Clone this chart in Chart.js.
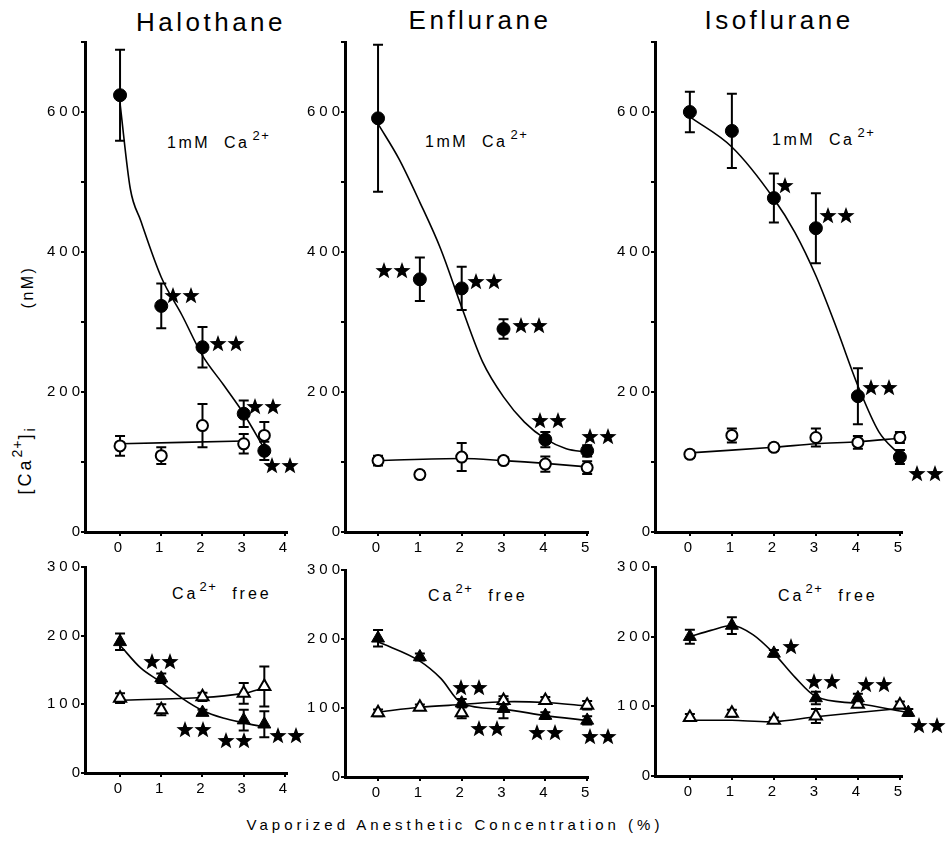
<!DOCTYPE html>
<html>
<head>
  <title>Anesthetics and [Ca2+]i</title>
  <script src="https://cdn.jsdelivr.net/npm/chart.js"></script>
  <style>
    body {
      margin: 0;
      background: #ffffff;
      font-family: 'Liberation Sans', Arial, sans-serif;
      color: #000;
    }
    #wrap {
      position: relative;
      width: 951px;
      height: 844px;
      overflow: hidden;
    }
    canvas { position: absolute; }
    .title {
      position: absolute;
      width: 300px;
      text-align: center;
      font-size: 26px;
      line-height: 32px;
      letter-spacing: 3.5px;
    }
    .lab {
      position: absolute;
      font-size: 16px;
      line-height: 16px;
      letter-spacing: 2.5px;
      white-space: nowrap;
    }
    .lab .sup {
      font-size: 13px;
      position: relative;
      top: -8px;
      letter-spacing: 1.5px;
      margin-left: 3px;
    }
    .lab.free { letter-spacing: 3px; }
    .lab.free .sup { margin-left: 1px; }
    .ylab {
      position: absolute;
      white-space: nowrap;
      transform: translate(-50%, -50%) rotate(-90deg);
    }
    #ynm { font-size: 16px; line-height: 16px; letter-spacing: 2.5px; }
    #yca { font-size: 18px; line-height: 18px; letter-spacing: 3px; }
    #yca .sup { font-size: 14px; position: relative; top: -9px; letter-spacing: 1px; }
    #yca .sub { font-size: 14px; position: relative; top: 4px; }
    #xtitle {
      position: absolute;
      left: 0;
      width: 910px;
      top: 816px;
      text-align: center;
      font-size: 15px;
      letter-spacing: 4px;
    }
  </style>
</head>
<body>
<div id="wrap">
  <div class="title" style="left:61px;top:6px">Halothane</div>
  <div class="title" style="left:330px;top:4px">Enflurane</div>
  <div class="title" style="left:629px;top:4px">Isoflurane</div>

  <div class="lab" style="left:167px;top:135px">1mM&nbsp;&nbsp;Ca<span class="sup">2+</span></div>
  <div class="lab" style="left:425px;top:134px">1mM&nbsp;&nbsp;Ca<span class="sup">2+</span></div>
  <div class="lab" style="left:772px;top:132px">1mM&nbsp;&nbsp;Ca<span class="sup">2+</span></div>

  <div class="lab free" style="left:172px;top:586px">Ca<span class="sup">2+</span>&nbsp;&nbsp;free</div>
  <div class="lab free" style="left:428px;top:588px">Ca<span class="sup">2+</span>&nbsp;&nbsp;free</div>
  <div class="lab free" style="left:778px;top:588px">Ca<span class="sup">2+</span>&nbsp;&nbsp;free</div>

  <div class="ylab" id="ynm" style="left:28px;top:287px">(nM)</div>
  <div class="ylab" id="yca" style="left:25px;top:460px">[Ca<span class="sup">2+</span>]<span class="sub">i</span></div>

  <div id="xtitle">Vaporized Anesthetic Concentration (%)</div>

  <canvas id="c1"></canvas>
  <canvas id="c2"></canvas>
  <canvas id="c3"></canvas>
  <canvas id="c4"></canvas>
  <canvas id="c5"></canvas>
  <canvas id="c6"></canvas>
</div>

<script>
  const FONT = "'Liberation Sans', Arial, sans-serif";

  // ---------- Halothane, 1mM Ca2+ ----------
  const haloDose = [0, 1, 2, 3, 3.5];
  const haloCa = [624, 323, 264, 169, 116];
  const haloCaSem = [65, 32, 29, 19, 13];
  const haloCaCtl = [123, 109, 152, 126, 138];
  const haloCaCtlSem = [14, 12, 31, 14, 19];
  const haloCaFitX = [0, 0.25, 0.5, 1, 1.5, 2, 2.5, 3, 3.5];
  const haloCaFitY = [612, 490, 445, 364, 310, 252, 211, 169, 119];
  const haloCaCtlFitX = [0, 3];
  const haloCaCtlFitY = [126, 130];
  const haloCaStar2X = [1.52, 2.6, 3.5, 3.92];
  const haloCaStar2Y = [338, 270, 180, 95];

  // ---------- Enflurane, 1mM Ca2+ ----------
  const enfDose = [0, 1, 2, 3, 4, 5];
  const enfCa = [591, 361, 348, 290, 132, 116];
  const enfCaSem = [105, 31, 31, 14, 11, 8];
  const enfCaCtl = [102, 82, 107, 102, 97, 92];
  const enfCaCtlSem = [7, 5, 20, 5, 11, 9];
  const enfCaFitX = [0, 0.5, 1, 1.5, 2, 2.5, 3, 3.5, 4, 4.5, 5];
  const enfCaFitY = [583, 533, 471, 404, 321, 243, 193, 157, 133, 119, 114];
  const enfCaCtlFitX = [0, 2, 3, 4, 5];
  const enfCaCtlFitY = [102, 105, 102, 98, 93];
  const enfCaStar2X = [0.38, 2.58, 3.64, 4.1, 5.3];
  const enfCaStar2Y = [373, 358, 295, 159, 137];

  // ---------- Isoflurane, 1mM Ca2+ ----------
  const isoDose = [0, 1, 2, 3, 4, 5];
  const isoCa = [600, 573, 477, 434, 194, 107];
  const isoCaSem = [29, 53, 35, 50, 40, 10];
  const isoCaCtl = [111, 138, 121, 135, 128, 135];
  const isoCaCtlSem = [5, 10, 5, 13, 9, 8];
  const isoCaFitX = [0, 1, 2, 2.5, 3, 3.5, 4, 4.5, 5];
  const isoCaFitY = [593, 550, 476, 428, 366, 290, 209, 143, 110];
  const isoCaCtlFitX = [0, 2, 3, 4, 5];
  const isoCaCtlFitY = [113, 121, 126, 129, 134];
  const isoCaStar1X = [2.28];
  const isoCaStar1Y = [495];
  const isoCaStar2X = [3.51, 4.53, 5.63];
  const isoCaStar2Y = [452, 207, 83];

  // ---------- Halothane, Ca2+ free ----------
  const haloFree = [191, 138, 88, 77, 71];
  const haloFreeSem = [12, 7, 4, 15, 19];
  const haloFreeCtl = [109, 92, 111, 116, 126];
  const haloFreeCtlSem = [7, 8, 6, 15, 29];
  const haloFreeFitX = [0, 0.5, 1, 1.5, 2, 2.5, 3, 3.5];
  const haloFreeFitY = [186, 153, 132, 109, 91, 80, 73, 67];
  const haloFreeCtlFitX = [0, 2, 3, 3.5];
  const haloFreeCtlFitY = [106, 110, 116, 124];
  const haloFreeStar2X = [1.0, 1.81, 2.8, 4.07];
  const haloFreeStar2Y = [163, 63, 47, 54];

  // ---------- Enflurane, Ca2+ free ----------
  const enfFree = [201, 174, 107, 99, 89, 82];
  const enfFreeSem = [12, 5, 6, 14, 5, 6];
  const enfFreeCtl = [93, 101, 93, 111, 111, 104];
  const enfFreeCtlSem = [5, 4, 8, 6, 5, 6];
  const enfFreeFitX = [0, 1, 1.5, 2, 3, 4, 5];
  const enfFreeFitY = [196, 168, 143, 107, 98, 89, 82];
  const enfFreeCtlFitX = [0, 1, 2, 3, 4, 5];
  const enfFreeCtlFitY = [94, 101, 105, 109, 108, 103];
  const enfFreeStar2X = [2.22, 2.65, 4.02, 5.3];
  const enfFreeStar2Y = [130, 70, 64, 58];

  // ---------- Isoflurane, Ca2+ free ----------
  const isoFreeDose = [0, 1, 2, 3, 4, 5.2];
  const isoFree = [200, 216, 176, 112, 112, 91];
  const isoFreeSem = [10, 12, 5, 9, 6, 5];
  const isoFreeCtl = [84, 90, 80, 86, 103, 102];
  const isoFreeCtlSem = [5, 5, 4, 10, 4, 5];
  const isoFreeFitX = [0, 0.5, 1, 1.5, 2, 2.5, 3, 4, 5.2];
  const isoFreeFitY = [200, 209, 216, 203, 176, 142, 114, 104, 91];
  const isoFreeCtlFitX = [0, 1, 2, 3, 5];
  const isoFreeCtlFitY = [80, 80, 78, 85, 97];
  const isoFreeStar1X = [2.42];
  const isoFreeStar1Y = [186];
  const isoFreeStar2X = [3.17, 4.42, 5.69];
  const isoFreeStar2Y = [136, 132, 73];

  // axis ticks
  const haloTicks = [0, 1, 2, 3, 4];
  const enfTicks = [0, 1, 2, 3, 4, 5];
  const isoTicks = [0, 1, 2, 3, 4, 5];
  const caTicks = [0, 100, 200, 300, 400, 500, 600, 700];
  const caLabels = [0, 200, 400, 600];
  const freeTicks = [0, 100, 200, 300];

  // filled black stars (significance marks)
  function makeStars(n) {
    const c = document.createElement('canvas');
    c.width = 18 * n + 1;
    c.height = 19;
    const g = c.getContext('2d');
    g.fillStyle = '#000';
    for (let k = 0; k < n; k++) {
      const cx = 9 + k * 18, cy = 10;
      g.beginPath();
      for (let j = 0; j < 10; j++) {
        const r = j % 2 ? 3.7 : 9;
        const a = -Math.PI / 2 + j * Math.PI / 5;
        g.lineTo(cx + r * Math.cos(a), cy + r * Math.sin(a));
      }
      g.closePath();
      g.fill();
    }
    return c;
  }
  const starOne = makeStars(1);
  const starPair = makeStars(2);

  const pts = (xs, ys) => xs.map((x, i) => ({ x: x, y: ys[i] }));

  // SEM bars, drawn under the markers
  const errorBars = {
    id: 'errorBars',
    beforeDatasetsDraw(chart) {
      const { ctx, scales: { x, y } } = chart;
      ctx.save();
      ctx.strokeStyle = '#000';
      ctx.lineWidth = 2;
      chart.data.datasets.forEach(ds => {
        if (!ds.err) return;
        ds.data.forEach((p, i) => {
          const e = ds.err[i];
          if (!e) return;
          const px = x.getPixelForValue(p.x);
          const top = y.getPixelForValue(p.y + e);
          const bot = y.getPixelForValue(p.y - e);
          ctx.beginPath();
          ctx.moveTo(px, top); ctx.lineTo(px, bot);
          ctx.moveTo(px - 5, top); ctx.lineTo(px + 5, top);
          ctx.moveTo(px - 5, bot); ctx.lineTo(px + 5, bot);
          ctx.stroke();
        });
      });
      ctx.restore();
    }
  };

  // spaced-out tick numerals like the original typesetting
  const spacedTicks = {
    id: 'spacedTicks',
    beforeDraw(chart) { chart.ctx.letterSpacing = '4px'; }
  };

  // stars sit partly outside the plot box, so they are placed with the scales here
  function starMarks(s) {
    return {
      id: 'starMarks',
      afterDatasetsDraw(chart) {
        const { ctx, scales: { x, y } } = chart;
        const put = (xs, ys, img) => {
          if (!xs) return;
          xs.forEach((v, i) => {
            const px = x.getPixelForValue(v), py = y.getPixelForValue(ys[i]);
            ctx.drawImage(img, Math.round(px - img.width / 2), Math.round(py - img.height / 2));
          });
        };
        put(s.star2X, s.star2Y, starPair);
        put(s.star1X, s.star1Y, starOne);
      }
    };
  }

  const PAD_L = 60, PAD_T = 25, PAD_R = 50, PAD_B = 40;

  function buildPanel(id, box, xRange, xTicks, yMax, yTicks, yLabels, s) {
    const cv = document.getElementById(id);
    cv.width = box.r - box.l + PAD_L + PAD_R;
    cv.height = box.b - box.t + PAD_T + PAD_B;
    cv.style.left = (box.l - PAD_L) + 'px';
    cv.style.top = (box.t - PAD_T) + 'px';

    const tri = s.marker === 'triangle';
    const datasets = [
      {
        data: pts(s.dose, s.val), err: s.sem, order: 0, clip: false,
        pointStyle: s.marker, pointRadius: tri ? 7.5 : 6.5,
        backgroundColor: '#000', borderColor: '#000', borderWidth: 1
      },
      {
        data: pts(s.ctlDose, s.ctl), err: s.ctlSem, order: 1, clip: false,
        pointStyle: s.marker, pointRadius: tri ? 7 : 5.5,
        backgroundColor: '#fff', borderColor: '#000', borderWidth: 2
      },
      {
        data: pts(s.fitX, s.fitY), order: 3, clip: false, showLine: true,
        pointRadius: 0, borderColor: '#000', borderWidth: 1.6,
        cubicInterpolationMode: 'monotone'
      },
      {
        data: pts(s.ctlFitX, s.ctlFitY), order: 3, clip: false, showLine: true,
        pointRadius: 0, borderColor: '#000', borderWidth: 1.6, tension: 0.3
      }
    ];

    return new Chart(cv, {
      type: 'scatter',
      data: { datasets: datasets },
      options: {
        responsive: false,
        animation: false,
        events: [],
        layout: { padding: { left: 0, top: PAD_T, right: PAD_R, bottom: 0 } },
        plugins: { legend: { display: false }, tooltip: { enabled: false } },
        scales: {
          x: {
            type: 'linear', min: xRange[0], max: xRange[1],
            afterBuildTicks: sc => { sc.ticks = xTicks.map(v => ({ value: v })); },
            afterFit: sc => { sc.height = PAD_B; },
            border: { display: true, color: '#000', width: 3 },
            grid: { display: true, drawOnChartArea: false, drawTicks: true, tickLength: 4, color: '#000', lineWidth: 2 },
            ticks: { color: '#000', font: { family: FONT, size: 15 }, padding: 3, maxRotation: 0, autoSkip: false }
          },
          y: {
            type: 'linear', min: 0, max: yMax,
            afterBuildTicks: sc => { sc.ticks = yTicks.map(v => ({ value: v })); },
            afterFit: sc => { sc.width = PAD_L; },
            border: { display: true, color: '#000', width: 3 },
            grid: { display: true, drawOnChartArea: false, drawTicks: true, tickLength: 4, color: '#000', lineWidth: 2 },
            ticks: {
              color: '#000', font: { family: FONT, size: 15 }, padding: -3, autoSkip: false,
              callback: v => (yLabels.indexOf(v) >= 0 ? String(v) : '')
            }
          }
        }
      },
      plugins: [spacedTicks, errorBars, starMarks(s)]
    });
  }

  buildPanel('c1', { l: 85, r: 287, t: 42, b: 532 }, [-0.85, 4.05], haloTicks, 700, caTicks, caLabels, {
    marker: 'circle', dose: haloDose, val: haloCa, sem: haloCaSem,
    ctlDose: haloDose, ctl: haloCaCtl, ctlSem: haloCaCtlSem,
    fitX: haloCaFitX, fitY: haloCaFitY, ctlFitX: haloCaCtlFitX, ctlFitY: haloCaCtlFitY,
    star2X: haloCaStar2X, star2Y: haloCaStar2Y
  });
  buildPanel('c2', { l: 345, r: 588, t: 42, b: 532 }, [-0.79, 5.02], enfTicks, 700, caTicks, caLabels, {
    marker: 'circle', dose: enfDose, val: enfCa, sem: enfCaSem,
    ctlDose: enfDose, ctl: enfCaCtl, ctlSem: enfCaCtlSem,
    fitX: enfCaFitX, fitY: enfCaFitY, ctlFitX: enfCaCtlFitX, ctlFitY: enfCaCtlFitY,
    star2X: enfCaStar2X, star2Y: enfCaStar2Y
  });
  buildPanel('c3', { l: 655, r: 902, t: 42, b: 532 }, [-0.83, 5.05], isoTicks, 700, caTicks, caLabels, {
    marker: 'circle', dose: isoDose, val: isoCa, sem: isoCaSem,
    ctlDose: isoDose, ctl: isoCaCtl, ctlSem: isoCaCtlSem,
    fitX: isoCaFitX, fitY: isoCaFitY, ctlFitX: isoCaCtlFitX, ctlFitY: isoCaCtlFitY,
    star1X: isoCaStar1X, star1Y: isoCaStar1Y, star2X: isoCaStar2X, star2Y: isoCaStar2Y
  });
  buildPanel('c4', { l: 85, r: 287, t: 567, b: 773 }, [-0.85, 4.05], haloTicks, 300, freeTicks, freeTicks, {
    marker: 'triangle', dose: haloDose, val: haloFree, sem: haloFreeSem,
    ctlDose: haloDose, ctl: haloFreeCtl, ctlSem: haloFreeCtlSem,
    fitX: haloFreeFitX, fitY: haloFreeFitY, ctlFitX: haloFreeCtlFitX, ctlFitY: haloFreeCtlFitY,
    star2X: haloFreeStar2X, star2Y: haloFreeStar2Y
  });
  buildPanel('c5', { l: 345, r: 588, t: 570, b: 777 }, [-0.79, 5.02], enfTicks, 300, freeTicks, freeTicks, {
    marker: 'triangle', dose: enfDose, val: enfFree, sem: enfFreeSem,
    ctlDose: enfDose, ctl: enfFreeCtl, ctlSem: enfFreeCtlSem,
    fitX: enfFreeFitX, fitY: enfFreeFitY, ctlFitX: enfFreeCtlFitX, ctlFitY: enfFreeCtlFitY,
    star2X: enfFreeStar2X, star2Y: enfFreeStar2Y
  });
  buildPanel('c6', { l: 655, r: 902, t: 567, b: 776 }, [-0.83, 5.05], isoTicks, 300, freeTicks, freeTicks, {
    marker: 'triangle', dose: isoFreeDose, val: isoFree, sem: isoFreeSem,
    ctlDose: isoDose, ctl: isoFreeCtl, ctlSem: isoFreeCtlSem,
    fitX: isoFreeFitX, fitY: isoFreeFitY, ctlFitX: isoFreeCtlFitX, ctlFitY: isoFreeCtlFitY,
    star1X: isoFreeStar1X, star1Y: isoFreeStar1Y, star2X: isoFreeStar2X, star2Y: isoFreeStar2Y
  });
</script>
</body>
</html>
